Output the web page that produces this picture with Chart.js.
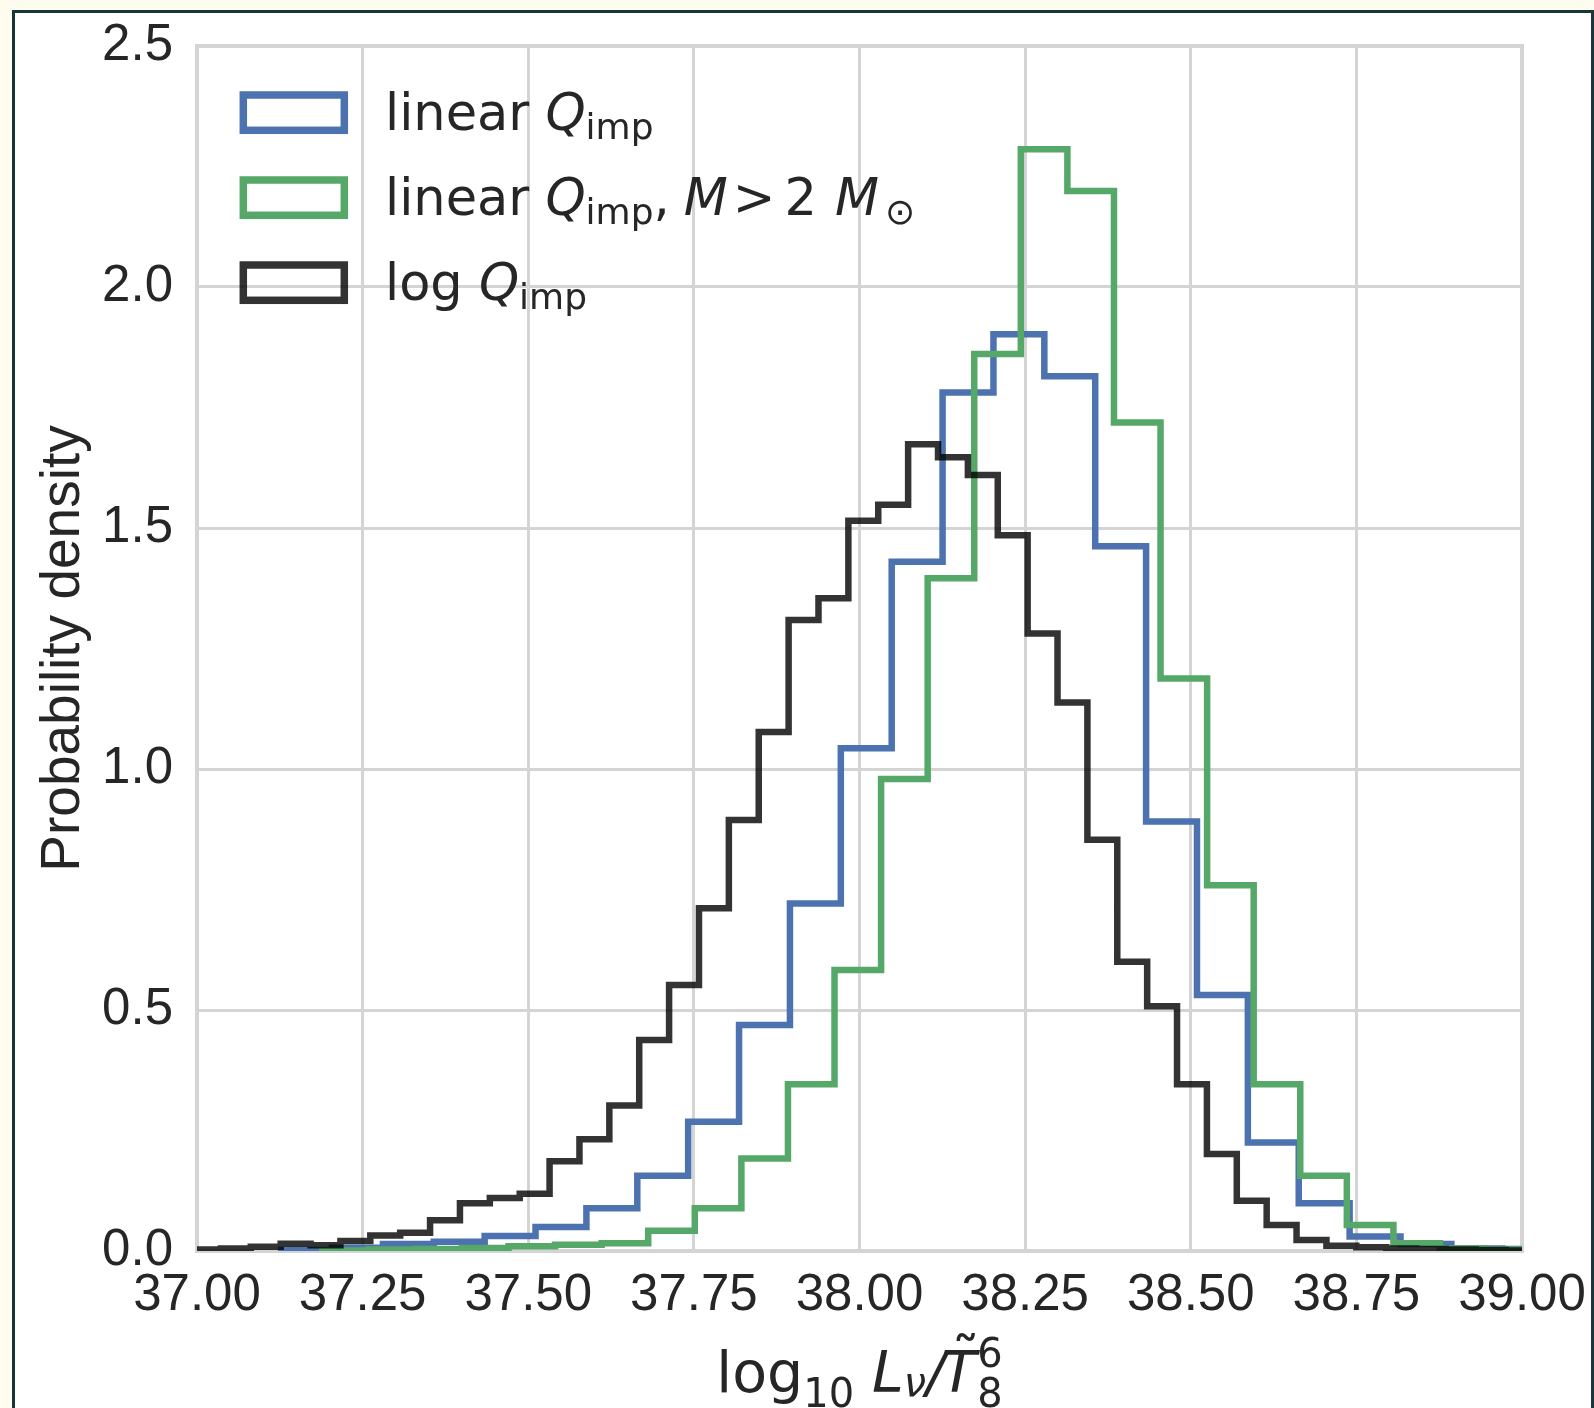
<!DOCTYPE html>
<html>
<head>
<meta charset="utf-8">
<script src="https://cdn.jsdelivr.net/npm/chart.js@4.4.1/dist/chart.umd.min.js"></script>
<style>
  html, body { margin: 0; padding: 0; overflow: hidden; background: #fefcee; }
  #frame { position: absolute; left: 12px; top: 10px; width: 1576px; height: 1420px; background: #fff; border: 3px solid #17353b; }
  #wrap { position: absolute; left: 0; top: 0; width: 1594px; height: 1408px; }
</style>
</head>
<body>
<div id="frame"></div>
<div id="wrap"><canvas id="histChart" width="1594" height="1408"></canvas></div>
<script>
// Histogram bins: first left edge, bin width, density per bin
const blueStart = 37.127;
const blueWidth = 0.0768;
const blueDensity = [0.002, 0.007, 0.0145, 0.019, 0.031, 0.050, 0.0885, 0.156, 0.268, 0.469,
    0.721, 1.043, 1.430, 1.781, 1.902, 1.815, 1.462, 0.891, 0.531, 0.225,
    0.099, 0.030, 0.0145, 0.005, 0.004];

const greenStart = 37.189;
const greenWidth = 0.0703;
const greenDensity = [0.001, 0.003, 0.004, 0.006, 0.010, 0.013, 0.016, 0.042, 0.0885, 0.192,
    0.346, 0.583, 0.979, 1.396, 1.861, 2.286, 2.199, 1.719, 1.188, 0.759,
    0.346, 0.156, 0.054, 0.016, 0.005, 0.003];

const blackStart = 36.991;
const blackWidth = 0.0451;
const blackDensity = [0.003, 0.005, 0.009, 0.015, 0.012, 0.021, 0.032, 0.038, 0.064, 0.099,
    0.110, 0.119, 0.186, 0.232, 0.302, 0.438, 0.552, 0.711, 0.894, 1.077,
    1.309, 1.354, 1.515, 1.548, 1.674, 1.647, 1.610, 1.485, 1.281, 1.138,
    0.853, 0.600, 0.508, 0.346, 0.201, 0.104, 0.054, 0.023, 0.011, 0.008,
    0.005, 0.004, 0.003, 0.002, 0.001];

const xTickValues = [37.00, 37.25, 37.50, 37.75, 38.00, 38.25, 38.50, 38.75, 39.00];
const yTickValues = [0.0, 0.5, 1.0, 1.5, 2.0, 2.5];

const blue = '#4c72b0';
const green = '#55a868';
const black = 'rgba(0, 0, 0, 0.8)';
const textColor = '#262626';
const gridColor = '#d4d4d4';
const mathFont = '"DejaVu Sans"';

// turn bins into the outline of a step histogram
function stepPoints(start, width, dens) {
    const pts = [{ x: start, y: 0 }];
    dens.forEach((d, i) => pts.push({ x: start + i * width, y: d }));
    pts.push({ x: start + dens.length * width, y: 0 });
    return pts;
}

function drawRuns(ctx, x, y, runs) {
    for (const r of runs) {
        ctx.font = (r.italic ? 'italic ' : '') + r.size + 'px ' + mathFont;
        x += r.gap || 0;
        ctx.fillText(r.t, x, y + (r.dy || 0));
        r.x = x;
        if (!r.stay) x += ctx.measureText(r.t).width;
    }
    return x;
}

function runsWidth(ctx, runs) {
    let w = 0;
    for (const r of runs) {
        ctx.font = (r.italic ? 'italic ' : '') + r.size + 'px ' + mathFont;
        w += (r.gap || 0);
        if (!r.stay) w += ctx.measureText(r.t).width;
    }
    return w;
}

const legendRows = [
    { color: blue, runs: [
        { t: 'linear ', size: 51 }, { t: 'Q', size: 51, italic: true }, { t: 'imp', size: 36, dy: 9 }] },
    { color: green, runs: [
        { t: 'linear ', size: 51 }, { t: 'Q', size: 51, italic: true }, { t: 'imp', size: 36, dy: 9 },
        { t: ',', size: 51 }, { t: 'M', size: 51, italic: true, gap: 14 }, { t: '>', size: 51, gap: 5 },
        { t: '2', size: 51, gap: 9 }, { t: 'M', size: 51, italic: true, gap: 18 }, { t: '\u2299', size: 36, dy: 9, gap: 6 }] },
    { color: black, runs: [
        { t: 'log ', size: 51 }, { t: 'Q', size: 51, italic: true }, { t: 'imp', size: 36, dy: 9 }] }
];

const decorPlugin = {
    id: 'decor',
    beforeDatasetsDraw(chart) {
        const { ctx, chartArea: a } = chart;
        ctx.save();
        ctx.strokeStyle = gridColor;
        ctx.lineWidth = 4;
        ctx.strokeRect(a.left, a.top, a.right - a.left, a.bottom - a.top);
        ctx.restore();
    },
    afterDraw(chart) {
        const { ctx, chartArea: a } = chart;
        ctx.save();
        ctx.fillStyle = textColor;
        ctx.textBaseline = 'alphabetic';
        ctx.textAlign = 'left';

        // legend
        legendRows.forEach((row, i) => {
            const top = 95 + i * 85;
            ctx.strokeStyle = row.color;
            ctx.lineWidth = 7.5;
            ctx.lineJoin = 'miter';
            ctx.strokeRect(243.3, top, 101, 35.3);
            ctx.fillStyle = textColor;
            drawRuns(ctx, 385, top + 35, row.runs);
        });

        // y title
        ctx.save();
        ctx.translate(79, (a.top + a.bottom) / 2);
        ctx.rotate(-Math.PI / 2);
        ctx.textAlign = 'center';
        ctx.font = '55px "Liberation Sans"';
        ctx.fillText('Probability density', 0, 0);
        ctx.restore();

        // x title: log10 L_nu / T~_8^6
        const xRuns = [
            { t: 'log', size: 57 }, { t: '10', size: 40, dy: 15 },
            { t: 'L', size: 57, italic: true, gap: 18 }, { t: '\u03bd', size: 40, italic: true, dy: 4 },
            { t: '/', size: 57, italic: true }, { t: 'T', size: 57, italic: true, gap: -4 },
            { t: '6', size: 40, dy: -25, stay: true, gap: 1 }, { t: '8', size: 40, dy: 15 }
        ];
        const w = runsWidth(ctx, xRuns);
        const x0 = (a.left + a.right) / 2 - w / 2;
        drawRuns(ctx, x0, 1391.7, xRuns);
        const tRun = xRuns[5];
        ctx.font = '57px ' + mathFont;
        ctx.fillText('\u02dc', tRun.x + 10, 1391.7 - 14);
        ctx.restore();
    }
};

const ctx = document.getElementById('histChart').getContext('2d');
new Chart(ctx, {
    type: 'line',
    data: {
        datasets: [{
            label: 'linear Q_imp',
            data: stepPoints(blueStart, blueWidth, blueDensity),
            borderColor: blue,
            order: 2
        }, {
            label: 'linear Q_imp, M > 2 M_sun',
            data: stepPoints(greenStart, greenWidth, greenDensity),
            borderColor: green,
            order: 1
        }, {
            label: 'log Q_imp',
            data: stepPoints(blackStart, blackWidth, blackDensity),
            borderColor: black,
            order: 0
        }].map(ds => Object.assign(ds, {
            stepped: 'before',
            borderWidth: 6.5,
            pointRadius: 0,
            fill: false,
            clip: 0,
            borderJoinStyle: 'miter',
            borderCapStyle: 'butt'
        }))
    },
    options: {
        responsive: false,
        animation: false,
        devicePixelRatio: 1,
        layout: { padding: { left: 0, top: 46, right: 72, bottom: 0 } },
        plugins: {
            legend: { display: false },
            tooltip: { enabled: false }
        },
        scales: {
            x: {
                type: 'linear',
                min: 37,
                max: 39,
                afterFit: s => { s.height = 157; s.paddingLeft = 0; s.paddingRight = 0; },
                afterBuildTicks: s => { s.ticks = xTickValues.map(v => ({ value: v })); },
                grid: { color: gridColor, lineWidth: 3, drawTicks: false },
                border: { display: false },
                ticks: {
                    padding: 14,
                    maxRotation: 0,
                    autoSkip: false,
                    color: textColor,
                    font: { family: '"Liberation Sans"', size: 51 },
                    callback: v => v.toFixed(2)
                }
            },
            y: {
                type: 'linear',
                min: 0,
                max: 2.5,
                afterFit: s => { s.width = 197; s.paddingTop = 0; s.paddingBottom = 0; },
                afterBuildTicks: s => { s.ticks = yTickValues.map(v => ({ value: v })); },
                grid: { color: gridColor, lineWidth: 3, drawTicks: false },
                border: { display: false },
                ticks: {
                    padding: 24,
                    color: textColor,
                    font: { family: '"Liberation Sans"', size: 51 },
                    callback: v => v.toFixed(1)
                }
            }
        }
    },
    plugins: [decorPlugin]
});
</script>
</body>
</html>
